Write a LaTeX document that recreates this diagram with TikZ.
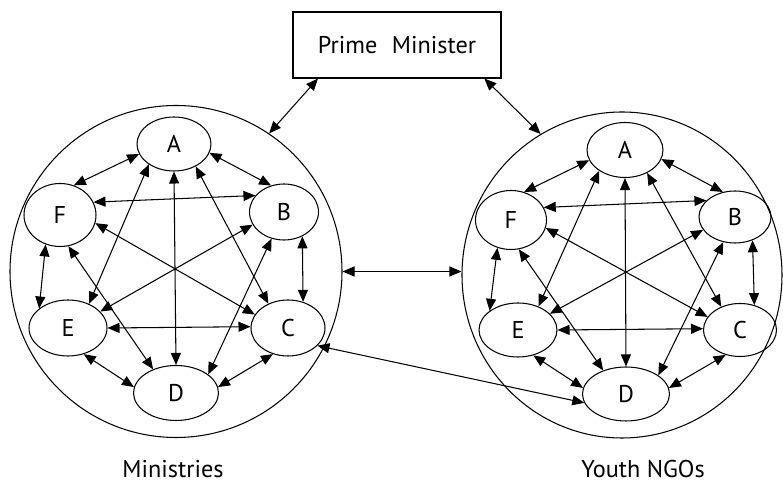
\documentclass[tikz,border=0pt]{standalone}
\usepackage{fontspec}
\setmainfont{PT Sans}
\usetikzlibrary{arrows.meta,shapes.geometric}

\begin{document}
\begin{tikzpicture}[
  line width=0.6pt,
  every node/.style={font=\fontsize{13.8}{16}\selectfont},
  member/.style={draw, ellipse, inner sep=0pt},
  link/.style={{Triangle[length=2.4mm,width=2mm]}-{Triangle[length=2.4mm,width=2mm]}}
]
  \useasboundingbox (0,0) rectangle (15.66,9.7);

  % Prime Minister
  \node[draw, minimum width=4.16cm, minimum height=1.32cm] (pm) at (7.94, 8.8) {Prime\hspace{0.6em}Minister};

  % the two groups
  \node[draw, circle, minimum size=6.64cm] (ministries) at (3.52, 4.27) {};
  \node[draw, ellipse, minimum width=6.4cm, minimum height=6.52cm] (ngos) at (12.44, 4.2) {};

  % Ministries
  \node[member, minimum width=1.48cm, minimum height=1.08cm] (lA) at (3.48, 6.82) {A};
  \node[member, minimum width=1.44cm, minimum height=1.26cm] (lF) at (1.20, 5.40) {F};
  \node[member, minimum width=1.38cm, minimum height=1.12cm] (lB) at (5.68, 5.46) {B};
  \node[member, minimum width=1.56cm, minimum height=1.12cm] (lE) at (1.36, 3.14) {E};
  \node[member, minimum width=1.48cm, minimum height=1.12cm] (lC) at (5.76, 3.14) {C};
  \node[member, minimum width=1.70cm, minimum height=1.10cm] (lD) at (3.52, 1.84) {D};

  % Youth NGOs
  \node[member, minimum width=1.52cm, minimum height=1.10cm] (rA) at (12.50, 6.70) {A};
  \node[member, minimum width=1.42cm, minimum height=1.18cm] (rF) at (10.22, 5.30) {F};
  \node[member, minimum width=1.44cm, minimum height=1.04cm] (rB) at (14.70, 5.36) {B};
  \node[member, minimum width=1.56cm, minimum height=1.08cm] (rE) at (10.36, 3.10) {E};
  \node[member, minimum width=1.46cm, minimum height=1.06cm] (rC) at (14.80, 3.10) {C};
  \node[member, minimum width=1.74cm, minimum height=1.08cm] (rD) at (12.52, 1.82) {D};

  % Labels
  \node[anchor=base] (minlabel) at (3.46, 0.14) {Ministries};
  \node[anchor=base] (ngolabel) at (12.86, 0.14) {Youth NGOs};

  % links inside each group
  \foreach \g in {l,r}
    \foreach \p/\q/\s/\t in {A/F/196/65, A/B/346/116, A/E/219/49, A/C/314/129, A/D/270/90,
                             F/B/21/150, F/C/347/158, F/D/285/134, F/E/244/146,
                             B/E/202/27, B/D/245/30, B/C/307/60,
                             E/C/0/178, E/D/301/172, C/D/240/8}
      \draw[link] (\g\p.\s) -- (\g\q.\t);

  % links between groups
  \draw[link] (pm.203) -- (ministries.56);
  \draw[link] (pm.339) -- (ngos.120);
  \draw[link] (ministries.east) -- (ministries.east -| ngos.west);
  \draw[link] (lC.329) -- (rD.192);
\end{tikzpicture}
\end{document}
